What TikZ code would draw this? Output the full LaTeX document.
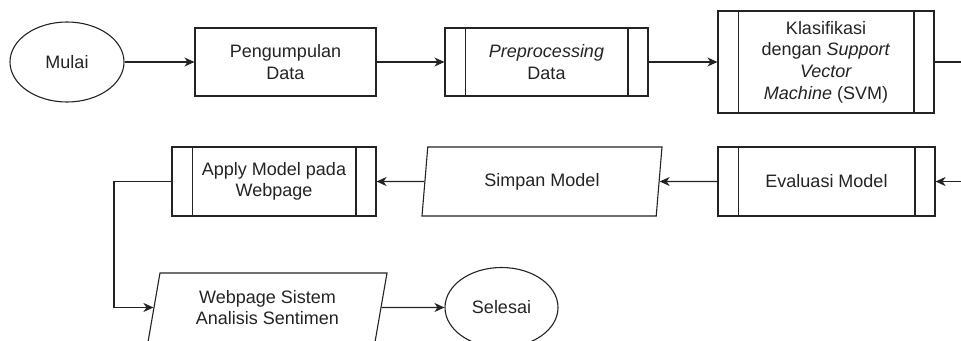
\documentclass[tikz,border=0pt]{standalone}
\usepackage{fontspec}
\setmainfont{Liberation Sans}
\usetikzlibrary{shapes.geometric,arrows.meta,calc}
\definecolor{ink}{RGB}{35,35,35}
\begin{document}
\begin{tikzpicture}[x=1pt,y=-1pt,
  every node/.style={font=\fontsize{18}{21.6}\selectfont, text=ink, align=center, inner sep=0pt},
  base/.style={draw=ink, line width=1.1pt},
  terminal/.style={base, ellipse, minimum width=114pt, minimum height=80pt},
  process/.style={base, rectangle, minimum height=68pt},
  predef/.style={base, rectangle, minimum height=69pt,
    path picture={
      \draw[ink, line width=1.1pt] ([xshift=20.5pt]path picture bounding box.north west) -- ([xshift=20.5pt]path picture bounding box.south west);
      \draw[ink, line width=1.1pt] ([xshift=-20pt]path picture bounding box.north east) -- ([xshift=-20pt]path picture bounding box.south east);}},
  io/.style={base, trapezium, trapezium left angle=71, trapezium right angle=109,
    trapezium stretches body, minimum height=69pt, minimum width=240pt},
  conn/.style={draw=ink, line width=1.1pt, -{Stealth[length=10pt,width=9pt,inset=3pt]}},
  plain/.style={draw=ink, line width=1.1pt}
]
\useasboundingbox (0,0) rectangle (961,340);
\clip (0,0) rectangle (961,340);

\node[terminal] (mulai) at (67,62) {Mulai};
\node[process, minimum width=181pt] (kumpul) at (285.5,62) {Pengumpulan\\Data};
\node[predef, minimum width=203pt, minimum height=68pt] (prep) at (546.5,62) {\textit{Preprocessing}\\Data};
\node[predef, minimum width=216pt, minimum height=102pt] (svm) at (826,62) {Klasifikasi\\dengan \textit{Support}\\\textit{Vector}\\\textit{Machine} (SVM)};

\node[predef, minimum width=217pt] (eval) at (826.5,181.5) {Evaluasi Model};
\node[io] (simpan) at (542,181.5) {Simpan Model};
\node[predef, minimum width=204pt] (apply) at (274,181.5) {Apply Model pada\\Webpage};

\node[io, minimum width=239pt] (web) at (267.5,307.5) {Webpage Sistem\\Analisis Sentimen};
\node[terminal, minimum width=113pt] (selesai) at (501.5,307.5) {Selesai};

\coordinate (r1) at (985,62);
\coordinate (l1) at (114,181.5);

\draw[conn] (mulai) -- (kumpul);
\draw[conn] (kumpul) -- (prep);
\draw[conn] (prep) -- (svm);
\draw[conn] (svm.east) -- (r1) |- (eval.east);
\draw[conn] (eval) -- (simpan);
\draw[conn] (simpan) -- (apply);
\draw[conn] (apply.west) -- (l1) |- (web.west);
\draw[conn] (web) -- (selesai);
\end{tikzpicture}
\end{document}
